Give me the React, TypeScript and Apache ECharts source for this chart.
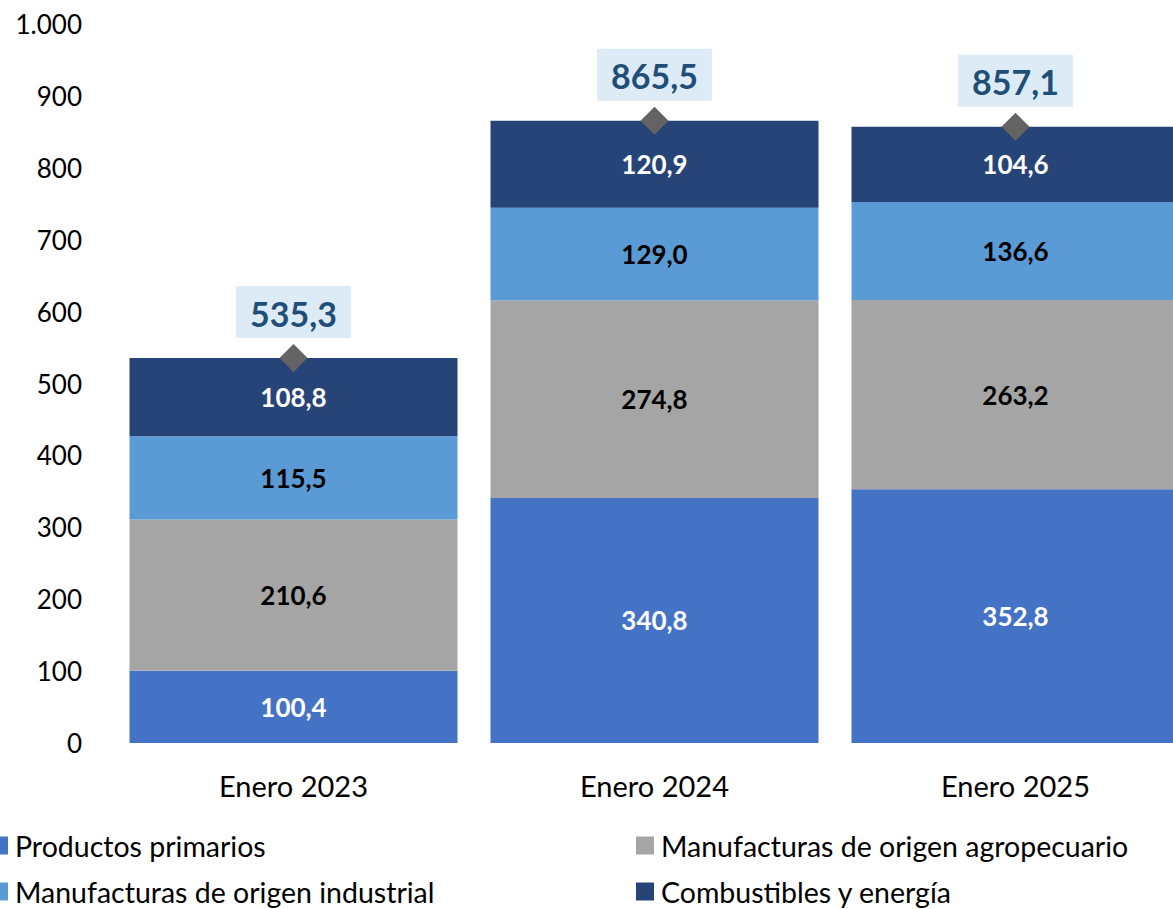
import React, { useEffect, useRef } from "react";
import * as echarts from "echarts";

const categories = ["Enero 2023", "Enero 2024", "Enero 2025"];
const productosPrimarios = [100.4, 340.8, 352.8];
const manufAgro = [210.6, 274.8, 263.2];
const manufIndustrial = [115.5, 129.0, 136.6];
const combustibles = [108.8, 120.9, 104.6];
const totals = [535.3, 865.5, 857.1];
const yTicks = [0, 100, 200, 300, 400, 500, 600, 700, 800, 900, 1000];
const seriesNames = [
  "Productos primarios",
  "Manufacturas de origen agropecuario",
  "Manufacturas de origen industrial",
  "Combustibles y energía",
];

const FONT = "Lato, 'Open Sans', sans-serif";

const fmt = (v: number) => v.toFixed(1).replace(".", ",");
const fmtTick = (v: number) =>
  v >= 1000 ? `${Math.floor(v / 1000)}.${String(v % 1000).padStart(3, "0")}` : String(v);

export default function App() {
  const ref = useRef<HTMLDivElement>(null);
  useEffect(() => {
    if (!ref.current) return;
    const chart = echarts.init(ref.current, undefined, { renderer: "svg" });
    const segLabel = (color: string) => ({
      show: true,
      position: "inside",
      color,
      fontFamily: FONT,
      fontWeight: "bold",
      fontSize: 26,
      formatter: (p: any) => fmt(p.value),
    });
    const barSeries = (name: string, data: number[], color: string, labelColor: string) => ({
      name,
      type: "bar",
      stack: "total",
      data,
      barWidth: 328,
      itemStyle: { color },
      label: segLabel(labelColor),
      emphasis: { disabled: true },
    });
    const legendPos = [
      { left: -10, top: 831 },
      { left: 636, top: 831 },
      { left: -10, top: 877 },
      { left: 636, top: 877 },
    ];
    const legends = seriesNames.map((n, i) => ({
      data: [n],
      left: legendPos[i].left,
      top: legendPos[i].top,
      itemWidth: 18,
      itemHeight: 18,
      itemGap: 0,
      padding: 0,
      icon: "rect",
      textStyle: { color: "#000", fontSize: 28.5, fontFamily: FONT, padding: [0, 0, 0, 2] },
    }));
    chart.setOption({
      animation: false,
      textStyle: { fontFamily: FONT },
      grid: { left: 113, top: 24, width: 1083, height: 719, outerBoundsMode: "none", containLabel: false },
      xAxis: {
        type: "category",
        data: categories,
        axisLine: { show: false },
        axisTick: { show: false },
        axisLabel: { color: "#000", fontSize: 29, fontFamily: FONT, margin: 28 },
      },
      yAxis: {
        type: "value",
        min: 0,
        max: 1000,
        interval: 100,
        axisLine: { show: false },
        axisTick: { show: false },
        splitLine: { show: false },
        axisLabel: {
          color: "#000",
          fontSize: 26,
          fontFamily: FONT,
          margin: 31,
          formatter: (v: number) => (yTicks.includes(v) ? fmtTick(v) : ""),
        },
      },
      legend: legends,
      series: [
        barSeries(seriesNames[0], productosPrimarios, "#4472C4", "#fff"),
        barSeries(seriesNames[1], manufAgro, "#A5A5A5", "#000"),
        barSeries(seriesNames[2], manufIndustrial, "#5B9BD5", "#000"),
        barSeries(seriesNames[3], combustibles, "#264478", "#fff"),
        {
          name: "Total",
          type: "scatter",
          data: totals,
          symbol: "diamond",
          symbolSize: 28,
          itemStyle: { color: "#636363", opacity: 1 },
          z: 10,
          label: {
            show: true,
            position: "top",
            distance: 6,
            color: "#1F4E79",
            opacity: 1,
            fontFamily: FONT,
            fontWeight: "bold",
            fontSize: 34,
            backgroundColor: "#DDEBF7",
            padding: [10, 14, 8, 14],
            formatter: (p: any) => fmt(p.value),
          },
          emphasis: { disabled: true },
        },
      ],
    });
    return () => chart.dispose();
  }, []);
  return (
    <div
      ref={ref}
      style={{ position: "fixed", left: 0, top: 0, width: 1173, height: 909, background: "#fff" }}
    />
  );
}
